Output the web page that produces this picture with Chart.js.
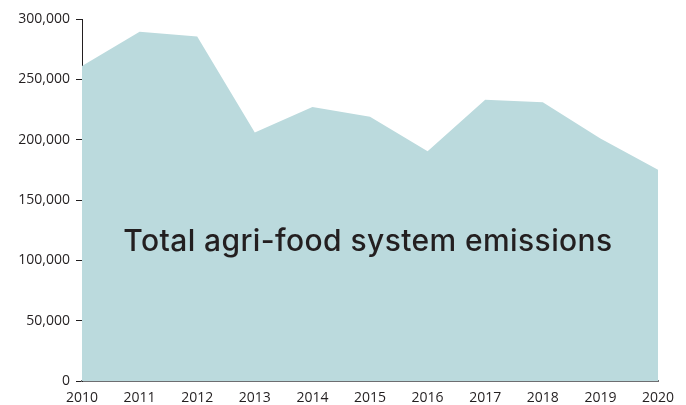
<!DOCTYPE html>
<html>
<head>
<meta charset="utf-8">
<script src="https://cdn.jsdelivr.net/npm/chart.js@4"></script>
<style>
  html, body { margin: 0; padding: 0; background: #fff; }
  #wrap { position: relative; width: 686px; height: 405px; }
  #label {
    position: absolute; left: 0; width: 736px; top: 222px;
    text-align: center; font-family: Inter, "Open Sans", sans-serif;
    font-size: 30px; font-weight: 500; letter-spacing: 0.4px; color: #231f20; white-space: nowrap;
  }
</style>
</head>
<body>
<div id="wrap">
  <canvas id="chart" width="686" height="405"></canvas>
  <div id="label">Total agri-food system emissions</div>
</div>
<script>
const years = ['2010', '2011', '2012', '2013', '2014', '2015', '2016', '2017', '2018', '2019', '2020'];
const emissions = [261000, 289500, 285500, 206000, 227000, 219000, 190500, 233000, 231000, 201000, 175000];
const yTicks = [0, 50000, 100000, 150000, 200000, 250000, 300000];

const tickFont = { family: '"Open Sans", sans-serif', size: 14 };

new Chart(document.getElementById('chart'), {
  type: 'line',
  data: {
    labels: years,
    datasets: [{
      data: emissions,
      fill: 'origin',
      backgroundColor: '#bbdadd',
      borderWidth: 0,
      pointRadius: 0,
      tension: 0,
    }],
  },
  options: {
    responsive: false,
    animation: false,
    layout: { padding: { top: 19, right: 28, left: 0, bottom: 0 } },
    plugins: { legend: { display: false }, tooltip: { enabled: false } },
    scales: {
      x: {
        offset: false,
        grid: { display: false, drawTicks: false },
        border: { display: true, color: '#6d6e71', width: 2 },
        ticks: { color: '#231f20', font: tickFont, padding: 9, maxRotation: 0, autoSkip: false },
        afterFit: (scale) => { scale.height = 24; },
      },
      y: {
        min: 0,
        max: 300000,
        afterBuildTicks: (scale) => { scale.ticks = yTicks.map((v) => ({ value: v })); },
        grid: { drawOnChartArea: false, drawTicks: true, tickLength: 6, color: '#231f20' },
        border: { display: true, color: '#231f20', width: 1 },
        ticks: {
          color: '#231f20', font: tickFont, padding: 6,
          callback: (v) => v.toLocaleString('en-US'),
        },
        afterFit: (scale) => { scale.width = 82; },
      },
    },
  },
});
</script>
</body>
</html>
